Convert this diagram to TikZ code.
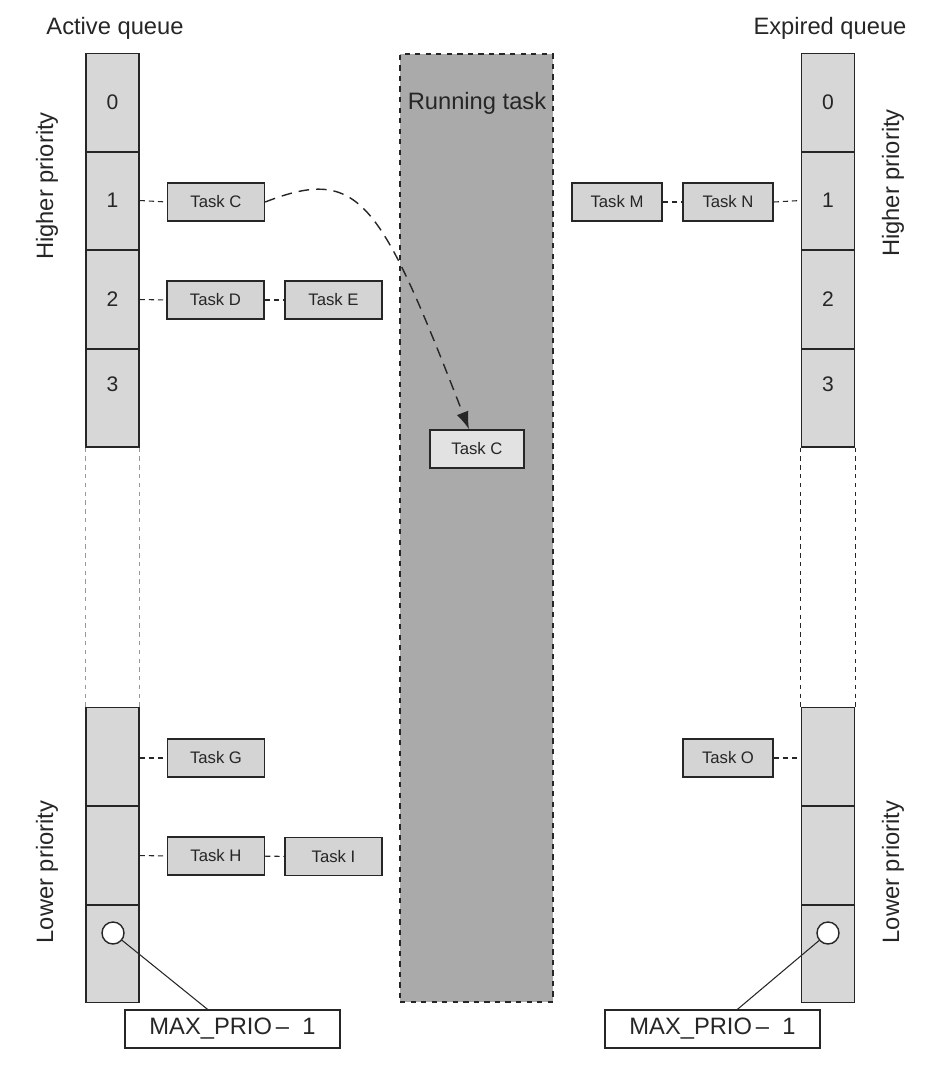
\documentclass[tikz,border=0pt]{standalone}
\usepackage{fontspec}
\setmainfont{Liberation Sans}
\usepackage{tikz}
\usetikzlibrary{positioning,arrows.meta}
\definecolor{cellbg}{RGB}{215,215,215}
\definecolor{taskbg}{RGB}{212,212,212}
\definecolor{runbg}{RGB}{170,170,170}
\definecolor{runtaskbg}{RGB}{226,226,226}
\colorlet{inkdark}{black!85}
\colorlet{gapline}{black!40}

\begin{document}
\begin{tikzpicture}[x=.02cm,y=-.02cm,every node/.style={text=inkdark},
    cell/.style={draw=inkdark,fill=cellbg,line width=.8pt,minimum width=1.06cm,minimum height=1.96cm,inner sep=0pt,font=\fontsize{12}{14}\selectfont},
    task/.style={draw=inkdark,fill=taskbg,line width=.8pt,minimum width=1.94cm,minimum height=.76cm,inner sep=0pt,font=\fontsize{9.5}{11}\selectfont},
    maxbox/.style={draw=inkdark,fill=white,line width=.8pt,minimum width=4.3cm,minimum height=.76cm,inner sep=0pt,font=\fontsize{13.5}{16}\selectfont},
    hdr/.style={font=\fontsize{13.5}{16}\selectfont,inner sep=0pt},
    side/.style={font=\fontsize{13.5}{16}\selectfont,inner sep=0pt,rotate=90},
    link/.style={dashed,dash pattern=on 3pt off 2.2pt,line width=.6pt,inkdark},
    gap/.style={dash pattern=on 2.5pt off 2.5pt,line width=.7pt},
    ringmark/.style={circle,draw=inkdark,fill=white,line width=.8pt,minimum size=.44cm,inner sep=0pt}]
  \useasboundingbox (0,0) rectangle (938,1076);
  % running task column
  \node[draw=inkdark,fill=runbg,dashed,line width=.9pt,minimum width=3.06cm,minimum height=18.96cm] (run) at (476.5,528) {};
  \node[hdr] (runlbl) at (477,103) {Running task};
  \node[task,fill=runtaskbg,minimum width=1.88cm] (rC) at (477,449) {Task C};
  % active queue
  \node[hdr] (actlbl) at (115,28) {Active queue};
  \node[cell] (a0) at (112.5,102.5) {0};
  \node[cell] (a1) at (112.5,200.5) {1};
  \node[cell] (a2) at (112.5,299.5) {2};
  \node[cell] (a3) at (112.5,398) {};
  \node[font=\fontsize{12}{14}\selectfont] (a3n) at (112.5,384) {3};
  \node[cell] (aL0) at (112.5,756.5) {};
  \node[cell] (aL1) at (112.5,855.5) {};
  \node[cell] (aL2) at (112.5,953.5) {};
  \draw[gap,gapline] (a3.south west) -- (aL0.north west);
  \draw[gap,gapline] (a3.south east) -- (aL0.north east);
  \node[side] (ahi) at (47,186) {Higher priority};
  \node[side] (alo) at (47,872) {Lower priority};
  \node[task] (tC) at (216,202) {Task C};
  \node[task] (tD) at (215.5,300) {Task D};
  \node[task] (tE) at (333.5,300) {Task E};
  \node[task] (tG) at (216,758) {Task G};
  \node[task] (tH) at (216,856) {Task H};
  \node[task] (tI) at (333.5,856.5) {Task I};
  \draw[link] (a1.east) -- (tC.west);
  \draw[link] (a2.east) -- (tD.west);
  \draw[link] (tD) -- (tE);
  \draw[link] (aL0.east |- tG) -- (tG.west);
  \draw[link] (aL1.east) -- (tH.west);
  \draw[link] (tH) -- (tI);
  \node[ringmark] (aM) at (113,933) {};
  \node[maxbox] (maxA) at (232.5,1029) {MAX\_PRIO\,–\ \ 1};
  \draw[line width=.6pt,inkdark] (aM) -- ([xshift=-.5cm]maxA.north);
  % expired queue
  \node[hdr] (explbl) at (830,28) {Expired queue};
  \node[cell] (e0) at (828,102.5) {0};
  \node[cell] (e1) at (828,200.5) {1};
  \node[cell] (e2) at (828,299.5) {2};
  \node[cell] (e3) at (828,398) {};
  \node[font=\fontsize{12}{14}\selectfont] (e3n) at (828,384) {3};
  \node[cell] (eL0) at (828,756.5) {};
  \node[cell] (eL1) at (828,855.5) {};
  \node[cell] (eL2) at (828,953.5) {};
  \draw[gap,inkdark] (e3.south west) -- (eL0.north west);
  \draw[gap,inkdark] (e3.south east) -- (eL0.north east);
  \node[side] (ehi) at (893,183) {Higher priority};
  \node[side] (elo) at (893,872) {Lower priority};
  \node[task,minimum width=1.8cm] (tM) at (617,202) {Task M};
  \node[task,minimum width=1.8cm] (tN) at (728,202) {Task N};
  \node[task,minimum width=1.8cm] (tO) at (728,758) {Task O};
  \draw[link] (tM) -- (tN);
  \draw[link] (tN.east) -- (e1.west);
  \draw[link] (tO.east) -- (eL0.west |- tO);
  \node[ringmark] (eM) at (828,933) {};
  \node[maxbox] (maxE) at (712.5,1029) {MAX\_PRIO\,–\ \ 1};
  \draw[line width=.6pt,inkdark] (eM) -- ([xshift=.5cm]maxE.north);
  % restroke the shared cell edges
  \foreach \c in {a0,a1,a2,aL0,aL1,e0,e1,e2,eL0,eL1}
    \draw[line width=.8pt,inkdark] (\c.south west) -- (\c.south east);
  % task C gets picked to run
  \draw[dash pattern=on 6pt off 4pt,line width=.8pt,inkdark,-{Latex[length=10pt,width=7pt]}] (tC.east) .. controls (360,165) and (380,200) .. ([xshift=-.16cm]rC.north);
\end{tikzpicture}
\end{document}
